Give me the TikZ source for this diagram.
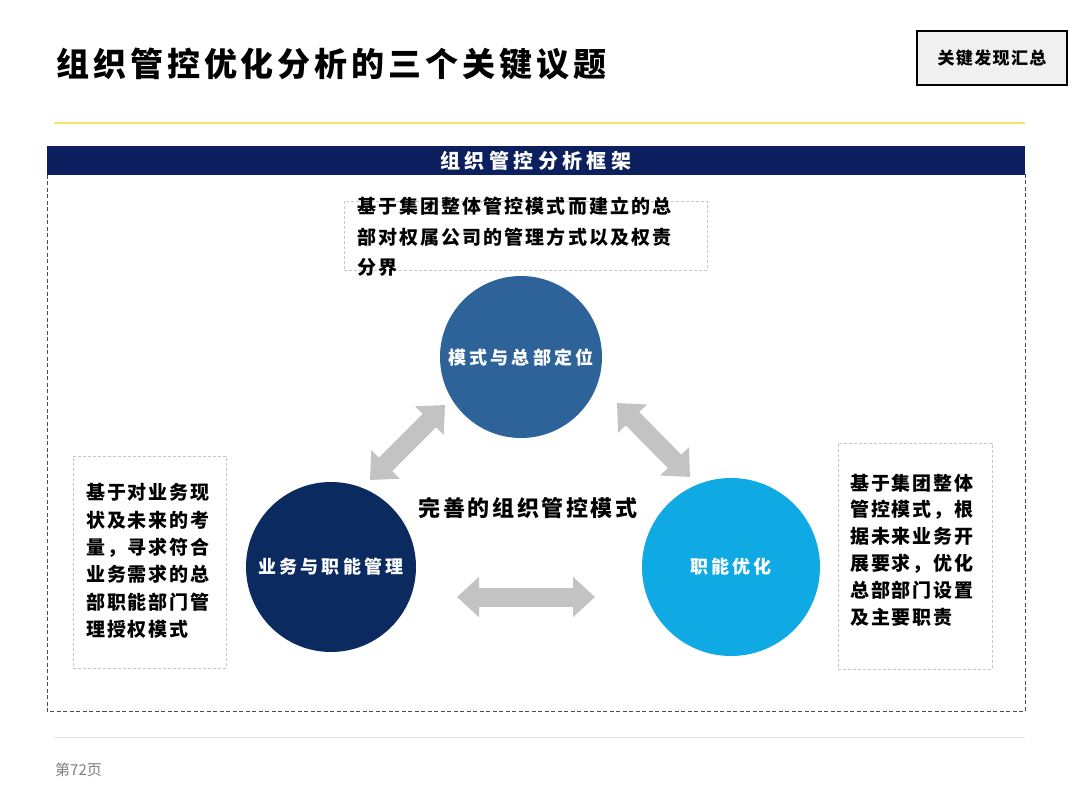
\documentclass[tikz,border=0pt]{standalone}
\usepackage{fontspec}
\setmainfont{Noto Sans CJK SC}
\usetikzlibrary{arrows.meta}
\definecolor{navybar}{HTML}{0C1F5F}
\definecolor{topblue}{HTML}{2E6399}
\definecolor{leftblue}{HTML}{0B2A5F}
\definecolor{rightblue}{HTML}{0FA9E3}
\definecolor{arrowgray}{HTML}{C3C3C3}
\definecolor{lineyellow}{HTML}{F3E46B}
\definecolor{boxgray}{HTML}{F0F0F0}
\newcommand\fsz[3]{\fontsize{#1}{#2}\selectfont\addfontfeatures{LetterSpace=#3}}
\begin{document}
\begin{tikzpicture}[x=1pt,y=-1pt,
  circ/.style={circle,inner sep=0pt,text=white,font=\bfseries\fsz{18}{20}{18}},
  notebox/.style={draw=gray!45,densely dashed,line width=0.6pt,inner sep=0pt},
  notetext/.style={anchor=north west,inner sep=0pt,align=left,font=\bfseries\fsz{19}{27.3}{10}},
  blockarrow/.style={draw=arrowgray,line width=19pt,
    {Triangle[length=22pt,width=39pt]}-{Triangle[length=22pt,width=39pt]}}
]
\useasboundingbox (0,0) rectangle (1080,810);
\fill[white] (0,0) rectangle (1080,810);

% title
\node[anchor=west,inner sep=0pt,font=\bfseries\fsz{33}{36}{12}] (title) at (56,64) {组织管控优化分析的三个关键议题};
\node[draw=black,line width=1.5pt,fill=boxgray,minimum width=150pt,minimum height=54pt,
  font=\bfseries\fsz{17}{20}{8}] (key) at (992,58) {关键发现汇总};

% yellow rule
\draw[lineyellow,line width=2.8pt] (54,123) -- (1025,123);

% frame
\draw[gray!60!black,line width=1pt,dash pattern=on 4pt off 2.5pt] (47,175) rectangle (1025,711);
\node[fill=navybar,minimum width=978pt,minimum height=29pt,inner sep=0pt,text=white,
  font=\bfseries\fsz{20}{22}{22}] (hdr) at (536,160.5) {组织管控分析框架};

% top note
\node[notebox,minimum width=363pt,minimum height=69pt] (topbox) at (525.5,235.5) {};
\node[notetext,font=\bfseries\fsz{19}{30.5}{11}] (toptext) at (357,197) {基于集团整体管控模式而建立的总\\部对权属公司的管理方式以及权责\\分界};

% left note
\node[notebox,minimum width=153pt,minimum height=212pt] (leftbox) at (149.5,562) {};
\node[notetext] (lefttext) at (86,483.5) {基于对业务现\\状及未来的考\\量，寻求符合\\业务需求的总\\部职能部门管\\理授权模式};

% right note
\node[notebox,minimum width=154pt,minimum height=226pt] (rightbox) at (915,556) {};
\node[notetext,font=\bfseries\fsz{19}{26.8}{10}] (righttext) at (850,473.5) {基于集团整体\\管控模式，根\\据未来业务开\\展要求，优化\\总部部门设置\\及主要职责};

% circles
\node[circ,fill=topblue,minimum size=162pt] (top) at (521,357) {模式与总部定位};
\node[circ,fill=leftblue,minimum size=170pt] (left) at (331,567) {业务与职能管理};
\node[circ,fill=rightblue,minimum size=178pt] (right) at (731,567) {职能优化};

% center label
\node[inner sep=0pt,font=\bfseries\fsz{22}{24}{12}] (mid) at (528,508) {完善的组织管控模式};

% arrows
\coordinate (a1s) at (370,480);
\coordinate (a1e) at (445,405);
\coordinate (a2s) at (617,403);
\coordinate (a2e) at (690,477);
\coordinate (a3s) at (457,597);
\coordinate (a3e) at (595,597);
\draw[blockarrow] (a1s) -- (a1e);
\draw[blockarrow] (a2s) -- (a2e);
\draw[blockarrow] (a3s) -- (a3e);

% footer
\draw[gray!20,line width=1pt] (54,737) -- (1025,737);
\node[anchor=west,inner sep=0pt,text=gray,font=\fsz{15}{16}{0}] (page) at (55,770) {第72页};
\end{tikzpicture}
\end{document}
